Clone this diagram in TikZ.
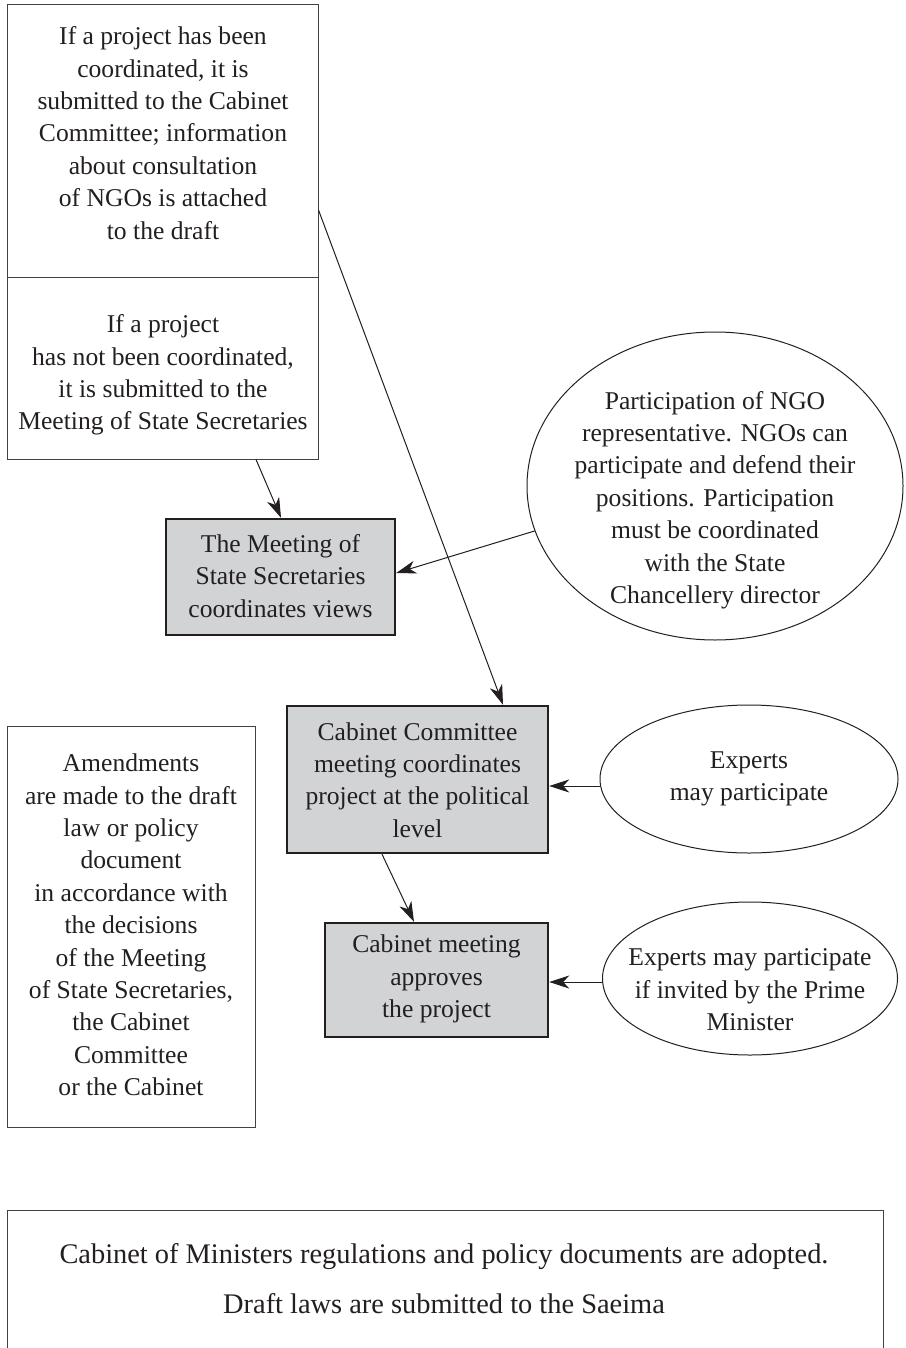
\documentclass[tikz,border=0pt]{standalone}
\usepackage{fontspec}
\setmainfont{Liberation Serif}
\usetikzlibrary{arrows.meta,shapes.geometric}
\definecolor{boxgray}{RGB}{209,211,212}
\definecolor{ink}{RGB}{35,31,32}
\tikzset{
  plainbox/.style={draw=ink!85,line width=1pt,rectangle,inner sep=0pt},
  graybox/.style={draw=ink,line width=2.4pt,fill=boxgray,rectangle,inner sep=0pt},
  oval/.style={draw=ink,line width=1pt,ellipse,inner sep=0pt},
  txt/.style={align=center,text=ink,inner sep=0pt,font=\fontsize{25.6}{32.4}\selectfont},
  bigtxt/.style={align=center,text=ink,inner sep=0pt,font=\fontsize{28.4}{50}\selectfont},
  conn/.style={draw=ink,line width=1pt,-{Stealth[length=20pt,width=13pt,inset=6pt]}}
}
\begin{document}
\begin{tikzpicture}[x=1pt,y=-1pt]
\useasboundingbox (0,0) rectangle (905,1348);
\fill[white] (0,0) rectangle (905,1348);
% top two-cell box
\node[plainbox,minimum width=311pt,minimum height=272pt] (top) at (162.5,141) {};
\node[plainbox,minimum width=311pt,minimum height=182pt] (box2) at (162.5,368) {};
\node[txt] (toptxt) at (163,133) {If a project has been\\coordinated, it is\\submitted to the Cabinet\\Committee; information\\about consultation\\of NGOs is attached\\to the draft};
\node[txt] (box2txt) at (163,375) {If a project\\has not been coordinated,\\it is submitted to the\\Meeting of State Secretaries};
% gray boxes
\node[graybox,minimum width=229pt,minimum height=116pt] (gray1) at (280.5,577) {};
\node[txt] (gray1txt) at (280.5,576) {The Meeting of\\State Secretaries\\coordinates views};
\node[graybox,minimum width=261pt,minimum height=147pt] (committee) at (417.5,779.5) {};
\node[txt] (committeetxt) at (417.5,780) {Cabinet Committee\\meeting coordinates\\project at the political\\level};
\node[graybox,minimum width=223pt,minimum height=114pt] (meeting) at (436.5,980) {};
\node[txt] (meetingtxt) at (436.5,979) {Cabinet meeting\\approves\\the project};
% ellipses
\node[oval,minimum width=376pt,minimum height=308pt] (ngo) at (715,486) {};
\node[txt] (ngotxt) at (715,500) {Participation of NGO\\representative. NGOs can\\participate and defend their\\positions. Participation\\must be coordinated\\with the State\\Chancellery director};
\node[oval,minimum width=298pt,minimum height=148pt] (exp1) at (749,779) {};
\node[txt] (exp1txt) at (749,779) {Experts\\may participate};
\node[oval,minimum width=295pt,minimum height=153pt] (exp2) at (750,978.5) {};
\node[txt] (exp2txt) at (750,990) {Experts may participate\\if invited by the Prime\\Minister};
% amendments box
\node[plainbox,minimum width=248pt,minimum height=401pt] (amend) at (131,926.5) {};
\node[txt] (amendtxt) at (131,925) {Amendments\\are made to the draft\\law or policy\\document\\in accordance with\\the decisions\\of the Meeting\\of State Secretaries,\\the Cabinet\\Committee\\or the Cabinet};
% bottom box (runs off the bottom edge)
\node[plainbox,minimum width=876pt,minimum height=260pt] (final) at (445,1340) {};
\node[bigtxt] (finaltxt) at (444,1279) {Cabinet of Ministers regulations and policy documents are adopted.\\Draft laws are submitted to the Saeima};
% connectors
\draw[conn] ([xshift=93.5pt]box2.south) -- ([xshift=0.5pt]gray1.north);
\draw[conn] ([yshift=-69pt]top.east) -- ([xshift=85.5pt]committee.north);
\draw[conn] (ngo.194) -- ([yshift=4pt]gray1.east);
\draw[conn] ([yshift=-7pt]exp1.west) -- ([yshift=-6.5pt]committee.east);
\draw[conn] ([xshift=-35.5pt]committee.south) -- ([xshift=-22.5pt]meeting.north);
\draw[conn] ([yshift=-3.5pt]exp2.west) -- ([yshift=-2pt]meeting.east);
\end{tikzpicture}
\end{document}
